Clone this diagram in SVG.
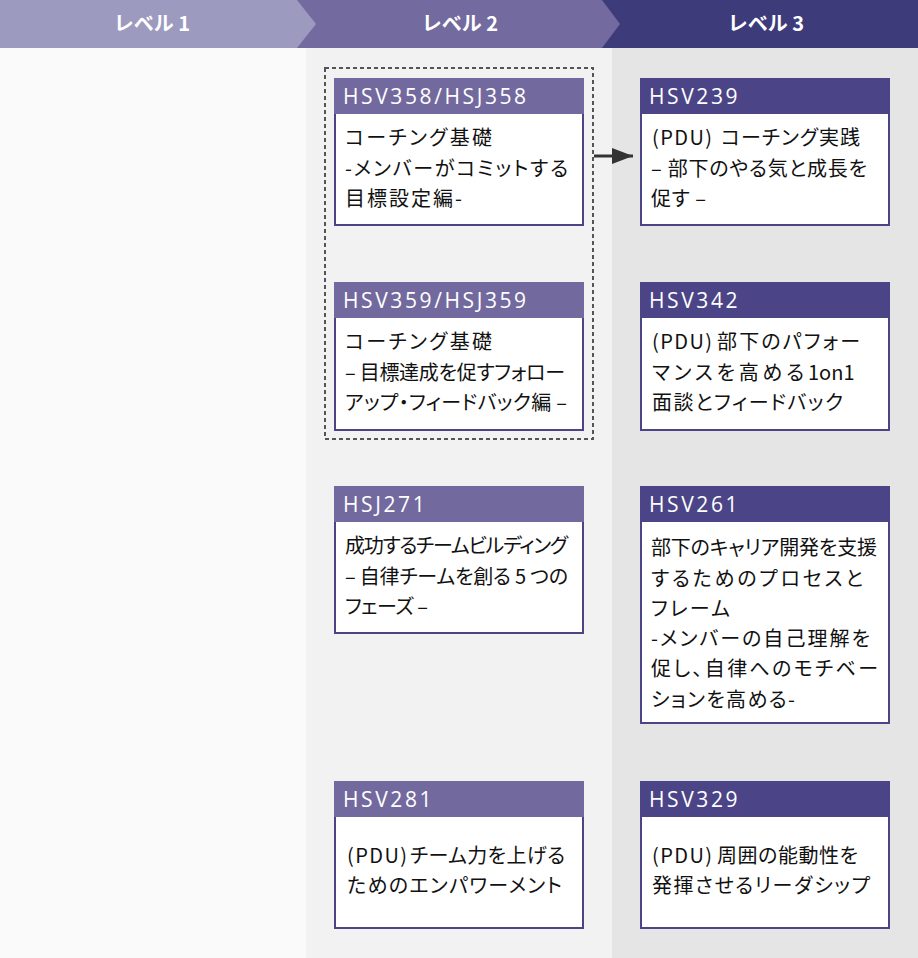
<svg xmlns="http://www.w3.org/2000/svg" width="918" height="958" viewBox="0 0 918 958">
<style>
.hd{font-family:"Noto Sans CJK JP","Noto Sans",sans-serif;font-size:20px;font-weight:bold;fill:#fff;text-anchor:middle}
.box{fill:#fff;stroke:#4b4587;stroke-width:2}
.h2{fill:#726a9e}
.h3{fill:#4b4587}
.code{font-family:"Open Sans","Noto Sans",sans-serif;font-size:21px;fill:#fff;letter-spacing:2.6px}
.t{font-family:"Noto Sans CJK JP","Noto Sans",sans-serif;font-size:20px;fill:#111;font-feature-settings:"palt"}
</style>
<defs>
<marker id="ah" markerWidth="22" markerHeight="16" refX="21" refY="8" orient="auto" markerUnits="userSpaceOnUse">
<path d="M0,0 L21,8 L0,16 Z" fill="#333"/>
</marker>
</defs>
<rect x="0" y="0" width="306" height="958" fill="#fafafa"/>
<rect x="306" y="0" width="306" height="958" fill="#f2f2f2"/>
<rect x="612" y="0" width="306" height="958" fill="#e5e5e5"/>
<g id="header">
<polygon points="601,0 918,0 918,48 601,48" fill="#3e3b7b"/>
<polygon points="297,0 602,0 620,24 602,48 297,48" fill="#736a9f"/>
<polygon points="0,0 297,0 316,24 297,48 0,48" fill="#9d9abf"/>
<text class="hd" x="152" y="31">レベル 1</text>
<text class="hd" x="460" y="31">レベル 2</text>
<text class="hd" x="766" y="31">レベル 3</text>
</g>
<g id="group-coaching">
<rect x="325" y="68" width="268" height="371" fill="none" stroke="#555" stroke-width="2" stroke-dasharray="4 3"/>
</g>
<g id="connectors">
<line x1="594" y1="156" x2="633" y2="156" stroke="#333" stroke-width="3" marker-end="url(#ah)"/>
</g>
<g id="HSV358">
<rect class="box" x="335" y="79" width="248" height="146"/>
<rect class="h2" x="334" y="78" width="250" height="36"/>
<text class="code" x="343" y="104">HSV358/HSJ358</text>
<text class="t" x="345" y="145" textLength="147">コーチング基礎</text>
<text class="t" x="345" y="176" textLength="223">-メンバーがコミットする</text>
<text class="t" x="345" y="206" textLength="117">目標設定編-</text>
</g>
<g id="HSV359">
<rect class="box" x="335" y="283" width="248" height="147"/>
<rect class="h2" x="334" y="282" width="250" height="36"/>
<text class="code" x="343" y="308">HSV359/HSJ359</text>
<text class="t" x="345" y="349" textLength="147">コーチング基礎</text>
<text class="t" x="345" y="380" textLength="220">– 目標達成を促すフォロー</text>
<text class="t" x="345" y="410" textLength="222">アップ・フィードバック編 –</text>
</g>
<g id="HSJ271">
<rect class="box" x="335" y="487" width="248" height="146"/>
<rect class="h2" x="334" y="486" width="250" height="36"/>
<text class="code" x="343" y="512">HSJ271</text>
<text class="t" x="345" y="553" textLength="223">成功するチームビルディング</text>
<text class="t" x="345" y="584" textLength="223">– 自律チームを創る 5 つの</text>
<text class="t" x="345" y="614" textLength="83">フェーズ –</text>
</g>
<g id="HSV281">
<rect class="box" x="335" y="782" width="248" height="146"/>
<rect class="h2" x="334" y="781" width="250" height="36"/>
<text class="code" x="343" y="807">HSV281</text>
<text class="t" x="347" y="863" textLength="60">(PDU)</text>
<text class="t" x="410" y="863" textLength="155">チーム力を上げる</text>
<text class="t" x="347" y="893" textLength="215">ためのエンパワーメント</text>
</g>
<g id="HSV239">
<rect class="box" x="641" y="79" width="248" height="146"/>
<rect class="h3" x="640" y="78" width="250" height="36"/>
<text class="code" x="649" y="104">HSV239</text>
<text class="t" x="652" y="145" textLength="60">(PDU)</text>
<text class="t" x="721" y="145" textLength="139">コーチング実践</text>
<text class="t" x="651" y="176" textLength="216">– 部下のやる気と成長を</text>
<text class="t" x="651" y="206" textLength="55">促す –</text>
</g>
<g id="HSV342">
<rect class="box" x="641" y="283" width="248" height="147"/>
<rect class="h3" x="640" y="282" width="250" height="36"/>
<text class="code" x="649" y="308">HSV342</text>
<text class="t" x="652" y="349" textLength="60">(PDU)</text>
<text class="t" x="717" y="349" textLength="143">部下のパフォー</text>
<text class="t" x="652" y="380" textLength="152">マンスを高める</text>
<text class="t" x="808" y="380">1on1</text>
<text class="t" x="652" y="410" textLength="191">面談とフィードバック</text>
</g>
<g id="HSV261">
<rect class="box" x="641" y="487" width="248" height="236"/>
<rect class="h3" x="640" y="486" width="250" height="36"/>
<text class="code" x="649" y="512">HSV261</text>
<text class="t" x="651" y="555" textLength="226">部下のキャリア開発を支援</text>
<text class="t" x="651" y="586" textLength="212">するためのプロセスと</text>
<text class="t" x="651" y="616" textLength="79">フレーム</text>
<text class="t" x="651" y="646" textLength="219">-メンバーの自己理解を</text>
<text class="t" x="651" y="676" textLength="227">促し、自律へのモチベー</text>
<text class="t" x="651" y="707" textLength="144">ションを高める-</text>
</g>
<g id="HSV329">
<rect class="box" x="641" y="782" width="248" height="146"/>
<rect class="h3" x="640" y="781" width="250" height="36"/>
<text class="code" x="649" y="807">HSV329</text>
<text class="t" x="652" y="863" textLength="60">(PDU)</text>
<text class="t" x="717" y="863" textLength="141">周囲の能動性を</text>
<text class="t" x="652" y="893" textLength="218">発揮させるリーダシップ</text>
</g>
</svg>
